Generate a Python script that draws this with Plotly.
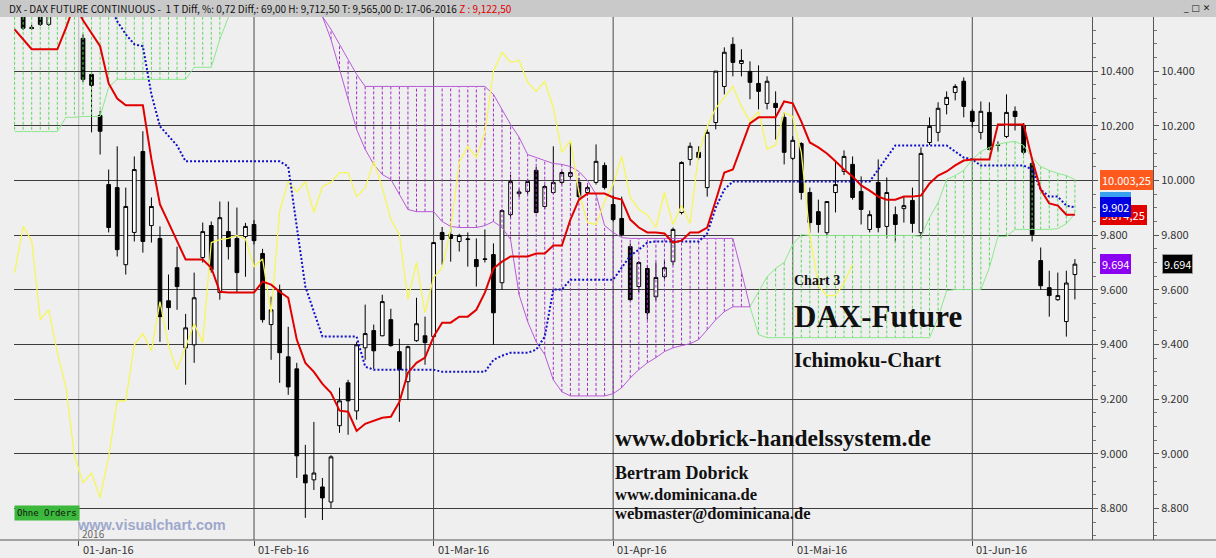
import plotly.graph_objects as go

# ---------------- data ----------------
bar_start = -7  # bar index of first candle (0 = 04-Jan-16)
opens = [10620, 10560, 10625, 10571, 10630, 10680, 10700,
         10520, 10388, 10238, 9985, 9974, 9692, 9810, 10106, 9835, 9788, 9560, 9681, 9388, 9399, 9718, 9835, 9590, 9813, 9788, 9795,
         9839, 9733, 9473, 9597, 9355, 9311, 8923, 8905, 8879, 8824, 9103, 9260, 9157, 9388, 9451, 9432, 9491, 9374, 9264, 9414, 9432,
         9429, 9810, 9802, 9777, 9784, 9711, 9711, 9729, 9626, 9875, 9952, 9960, 10037, 9905, 9956, 9993, 10015, 9993, 9956, 9993, 10055,
         9912, 9861, 9758, 9612, 9678, 9575, 9648, 9703, 9883, 10077, 10103, 9974, 10212, 10344, 10498, 10428, 10399, 10355, 10282, 10282, 10231,
         10081, 10135, 9956, 9886, 9809, 9956, 10033, 10059, 9960, 9821, 9993, 9832, 9875, 9897, 9927, 9809, 10139, 10176, 10278, 10322, 10363,
         10253, 10176, 10249, 10128, 10161, 10253, 10201, 10062, 9707, 9608, 9564, 9484, 9656]
highs = [10660, 10570, 10650, 10640, 10700, 10720, 10740,
         10535, 10400, 10255, 10040, 10125, 9974, 10088, 10180, 9938, 9832, 9656, 9758, 9512, 9663, 9846, 9850, 9923, 9923, 9901, 9845,
         9855, 9750, 9575, 9619, 9465, 9333, 9033, 9117, 8912, 8995, 9242, 9271, 9410, 9546, 9473, 9582, 9531, 9421, 9396, 9571, 9502,
         9775, 9830, 9832, 9805, 9810, 9788, 9821, 9770, 9895, 10020, 9970, 10005, 10050, 9985, 10125, 10035, 10139, 10010, 9985, 10132, 10066,
         9945, 9941, 9770, 9705, 9690, 9700, 9711, 9828, 10070, 10139, 10125, 10187, 10400, 10487, 10524, 10480, 10436, 10421, 10381, 10326, 10249,
         10162, 10140, 9974, 9930, 9923, 10070, 10110, 10088, 10015, 9890, 10077, 10011, 9905, 9941, 9974, 10121, 10231, 10286, 10326, 10352, 10377,
         10260, 10289, 10286, 10143, 10315, 10271, 10210, 10070, 9755, 9670, 9663, 9670, 9712.5]
lows = [10550, 10550, 10565, 10565, 10610, 10640, 10660,
        10360, 10176, 10095, 9810, 9722, 9656, 9777, 9736, 9773, 9410, 9454, 9527, 9253, 9333, 9700, 9663, 9564, 9711, 9590, 9648,
        9766, 9480, 9344, 9260, 9216, 8912, 8766, 8868, 8758, 8802, 9077, 9070, 9125, 9344, 9311, 9430, 9392, 9117, 9198, 9410, 9326,
        9425, 9692, 9703, 9740, 9685, 9612, 9700, 9399, 9600, 9860, 9940, 9950, 9880, 9895, 9950, 9985, 10005, 9935, 9945, 9985, 9967,
        9850, 9795, 9560, 9590, 9491, 9560, 9640, 9690, 9876, 10055, 10077, 9941, 10187, 10315, 10381, 10381, 10297, 10260, 10260, 10150, 10059,
        10075, 9930, 9809, 9809, 9800, 9883, 10020, 9930, 9839, 9810, 9810, 9788, 9773, 9846, 9809, 9791, 10130, 10143, 10242, 10293, 10231,
        10194, 10150, 10110, 10106, 10155, 10183, 10095, 9777, 9600, 9502, 9560, 9429, 9565]
closes = [10557, 10556, 10571, 10615, 10680, 10700, 10690,
          10370, 10348, 10180, 9828, 9747, 9905, 10040, 9777, 9905, 9502, 9535, 9612, 9461, 9571, 9813, 9674, 9864, 9758, 9663, 9832,
          9780, 9491, 9527, 9370, 9245, 8993, 8894, 8930, 8839, 8989, 9194, 9194, 9399, 9440, 9377, 9557, 9396, 9308, 9392, 9476, 9407,
          9773, 9784, 9788, 9799, 9786, 9685, 9713, 9516, 9890, 9996, 9958, 9996, 9883, 9978, 9993, 10029, 10029, 9941, 9974, 10070, 9974,
          9857, 9802, 9564, 9700, 9516, 9645, 9681, 9821, 10066, 10125, 10084, 10176, 10400, 10469, 10432, 10439, 10359, 10326, 10363, 10267, 10103,
          10147, 9956, 9846, 9839, 9923, 9985, 10088, 9938, 9894, 9875, 9828, 9956, 9839, 9908, 9843, 10099, 10198, 10264, 10304, 10344, 10271,
          10216, 10253, 10114, 10130, 10249, 10234, 10103, 9802, 9615, 9579, 9579, 9625, 9694]

tenkan_start = -8
tenkan = [10553, 10516, 10480, 10480, 10480, 10480, 10557, 10645,
          10586, 10538, 10491, 10355, 10300, 10275, 10275, 10275, 10078, 9912, 9846, 9777, 9711, 9711, 9711, 9681, 9593, 9590, 9590, 9590,
          9590, 9630, 9619, 9593, 9571, 9418, 9333, 9300, 9256, 9223, 9158, 9154, 9084, 9110, 9121, 9132, 9136, 9190, 9297, 9333, 9352,
          9429, 9480, 9480, 9502, 9502, 9527, 9590, 9678, 9703, 9722, 9722, 9722, 9733, 9733, 9762, 9762, 9857, 9930, 9952, 9952, 9952,
          9938, 9930, 9857, 9828, 9810, 9810, 9806, 9773, 9780, 9810, 9810, 9828, 9927, 10029, 10040, 10121, 10209, 10231, 10231, 10231, 10289,
          10282, 10216, 10139, 10121, 10099, 10070, 10040, 10015, 9982, 9963, 9941, 9930, 9930, 9941, 9941, 9945, 9989, 10018, 10033, 10055, 10073,
          10077, 10077, 10077, 10205, 10205, 10205, 10205, 10077, 9967, 9916, 9908, 9875, 9875]

kijun_start = 3
kijun = [10650, 10582, 10535, 10498, 10491, 10315, 10198, 10165, 10128,
         10070, 10070, 10070, 10070, 10070, 10070, 10070, 10070, 10070, 10070, 10070, 10070, 10051, 9824, 9612, 9520,
         9429, 9429, 9429, 9429, 9429, 9319, 9308, 9308, 9308, 9308, 9308, 9308, 9308, 9308,
         9300, 9300, 9300, 9300, 9300, 9300, 9344, 9359, 9370, 9370, 9370, 9381, 9429, 9601, 9601,
         9637, 9637, 9637, 9637, 9637, 9637, 9681, 9725, 9747, 9773, 9777, 9777, 9777, 9777, 9777, 9777, 9806, 9901, 9967,
         9996, 9996, 9996, 9996, 9996, 9996, 9996, 9996, 9996, 9996, 9996, 9996, 9996, 9996, 9996, 9996, 9996,
         10040, 10084, 10128, 10128, 10128, 10128, 10128, 10128, 10128, 10106, 10084, 10077,
         10055, 10055, 10055, 10055, 10055, 10055, 10040, 9967, 9941, 9941, 9908, 9902]

chikou_start = -8
chikou = [9663, 9832, 9780, 9491, 9527, 9370, 9245, 8993,
          8894, 8930, 8839, 8989, 9194, 9194, 9399, 9440, 9377, 9557, 9396, 9308, 9392, 9476, 9407, 9773, 9784, 9788, 9799, 9786,
          9685, 9713, 9516, 9890, 9996, 9958, 9996, 9883, 9978, 9993, 10029, 10029, 9941, 9974, 10070, 9974, 9857, 9802, 9564, 9700,
          9516, 9645, 9681, 9821, 10066, 10125, 10084, 10176, 10400, 10469, 10432, 10439, 10359, 10326, 10363, 10267, 10103, 10147, 9956,
          9846, 9839, 9923, 9985, 10088, 9938, 9894, 9875, 9828, 9956, 9839, 9908, 9843, 10099, 10198, 10264, 10304, 10344, 10271, 10216,
          10253, 10114, 10130, 10249, 10234, 10103, 9802, 9615, 9579, 9579, 9625, 9694]

span_start = -8
span_a = [10800, 10800, 10800, 10800, 10800, 10800, 10800, 10800, 10800, 10800, 10800, 10800,
          10800, 10800, 10800, 10800, 10800, 10800, 10800, 10800, 10800, 10800, 10800, 10800,
          10800, 10800, 10800, 10800, 10800, 10800, 10800, 10800, 10800, 10800, 10800, 10800,
          10600, 10516, 10407, 10297, 10187, 10114, 10059, 10022, 10004, 9949, 9894, 9886, 9886, 9886, 9850, 9832,
          9828, 9828, 9828, 9835, 9850, 9828, 9784, 9582, 9484, 9410, 9363, 9271, 9227, 9212, 9212, 9212, 9212, 9212,
          9220, 9242, 9278, 9308, 9333, 9352, 9374, 9388, 9396, 9403, 9418, 9454, 9491, 9520, 9538, 9538, 9538,
          9593, 9648, 9678, 9700, 9766, 9802, 9799, 9799, 9799, 9799, 9799, 9799, 9799, 9799, 9799, 9799, 9799, 9799, 9799, 9795,
          9864, 9919, 10004, 10018, 10037, 10077, 10106, 10121, 10132, 10139, 10143, 10128, 10084, 10051, 10037, 10026, 10018, 10003]
span_b = [10179, 10179, 10179, 10179, 10179, 10179, 10231, 10231, 10234, 10234, 10234, 10341,
          10370, 10370, 10370, 10370, 10370, 10370, 10370, 10370, 10370, 10414, 10414, 10414, 10516, 10597,
          10700, 10700, 10700, 10700, 10700, 10700, 10700, 10700, 10700, 10700,
          10600, 10553, 10498, 10443, 10388, 10344, 10344, 10344, 10344, 10344, 10344, 10344, 10344, 10344, 10344,
          10344, 10344, 10344, 10344, 10344, 10315, 10260, 10205, 10158, 10095, 10084, 10073, 10062, 10059, 10051, 10033,
          10000, 9949, 9835, 9810, 9791, 9788, 9788, 9788, 9788, 9788, 9788, 9788, 9788, 9788, 9788, 9788, 9788, 9788,
          9667, 9538, 9436, 9425, 9425, 9425, 9425, 9425, 9425, 9425, 9425, 9425, 9425, 9425, 9425, 9425, 9425, 9425,
          9425, 9425, 9425, 9425, 9425, 9498, 9597, 9601, 9601, 9601, 9601, 9681, 9795, 9795,
          9821, 9821, 9821, 9821, 9821, 9824, 9842, 9879]

month_idx = [-0.5, 20, 41, 62, 83, 104]
month_labels = ["01-Jan-16", "01-Feb-16", "01-Mar-16", "01-Apr-16", "01-Mai-16", "01-Jun-16"]

# ---------------- helpers ----------------
W, H = 1216, 558
ML, MT, MB = 14, 17, 18
PW = W - ML
PH = H - MT - MB


def px(x):
    return (x - ML) / PW


def py(y):
    return (H - MB - y) / PH


bars_x = list(range(bar_start, bar_start + len(opens)))
ten_x = list(range(tenkan_start, tenkan_start + len(tenkan)))
kij_x = list(range(kijun_start, kijun_start + len(kijun)))
chi_x = list(range(chikou_start, chikou_start + len(chikou)))
n_span = min(len(span_a), len(span_b))
spn_x = list(range(span_start, span_start + n_span))

GREEN_H = "#5cd85c"
GREEN_L = "#8ee88e"
PURP_H = "#a22cc8"
PURP_L = "#b85ad8"

fig = go.Figure()

# cloud hatch: one dashed vertical segment per bar
hx = {"g": [], "p": []}
hy = {"g": [], "p": []}
for k in range(n_span):
    a, b = span_a[k], span_b[k]
    key = "g" if a >= b else "p"
    hx[key] += [spn_x[k], spn_x[k], None]
    hy[key] += [a, b, None]
fig.add_trace(go.Scatter(x=hx["g"], y=hy["g"], mode="lines",
                         line=dict(color=GREEN_H, width=1, dash="3px,2px"),
                         hoverinfo="skip", showlegend=False))
fig.add_trace(go.Scatter(x=hx["p"], y=hy["p"], mode="lines",
                         line=dict(color=PURP_H, width=1, dash="3px,2px"),
                         hoverinfo="skip", showlegend=False))

# cloud borders
bx = {"g": [], "p": []}
by = {"g": [], "p": []}
for k in range(n_span - 1):
    key = "g" if span_a[k] + span_a[k + 1] >= span_b[k] + span_b[k + 1] else "p"
    for s in (span_a, span_b):
        bx[key] += [spn_x[k], spn_x[k + 1], None]
        by[key] += [s[k], s[k + 1], None]
fig.add_trace(go.Scatter(x=bx["g"], y=by["g"], mode="lines",
                         line=dict(color=GREEN_L, width=1),
                         hoverinfo="skip", showlegend=False))
fig.add_trace(go.Scatter(x=bx["p"], y=by["p"], mode="lines",
                         line=dict(color=PURP_L, width=1),
                         hoverinfo="skip", showlegend=False))

# candles
fig.add_trace(go.Candlestick(
    x=bars_x, open=opens, high=highs, low=lows, close=closes,
    increasing=dict(line=dict(color="#000000", width=1), fillcolor="#ffffff"),
    decreasing=dict(line=dict(color="#000000", width=1), fillcolor="#000000"),
    whiskerwidth=0, hoverinfo="skip", showlegend=False))

# chikou (yellow)
fig.add_trace(go.Scatter(x=chi_x, y=chikou, mode="lines",
                         line=dict(color="#f6f65a", width=1.3),
                         hoverinfo="skip", showlegend=False))
# kijun (blue dotted)
fig.add_trace(go.Scatter(x=kij_x, y=kijun, mode="lines",
                         line=dict(color="#1010c8", width=2, dash="2px,2px"),
                         hoverinfo="skip", showlegend=False))
# tenkan (red)
fig.add_trace(go.Scatter(x=ten_x, y=tenkan, mode="lines",
                         line=dict(color="#e00000", width=2),
                         hoverinfo="skip", showlegend=False))
# carrier for second price axis
fig.add_trace(go.Scatter(x=[0], y=[9000], yaxis="y2", mode="markers",
                         marker=dict(opacity=0), hoverinfo="skip", showlegend=False))

YR = [8685, 10598]
axis_font = dict(family="Noto Sans CJK KR", size=11, color="#333333")
ycommon = dict(range=YR, tickmode="linear", tick0=8800, dtick=200, tickformat=",.0f",
               ticks="outside", ticklen=5, tickcolor="#555555", showline=True,
               linecolor="#555555", linewidth=1, zeroline=False, tickfont=axis_font,
               minor=dict(dtick=50, ticks="outside", ticklen=3, tickcolor="#777777", showgrid=False),
               fixedrange=True)

shapes = []
# title bar
shapes.append(dict(type="rect", xref="paper", yref="paper", x0=px(0), x1=px(W),
                   y0=py(MT), y1=py(0), fillcolor="#c9c9c9", line=dict(width=0), layer="above"))
# bottom line across the whole width
shapes.append(dict(type="line", xref="paper", yref="paper", x0=px(0), x1=px(W), y0=0, y1=0,
                   line=dict(color="#555555", width=1)))
# month separator lines
for k, mi in enumerate(month_idx):
    shapes.append(dict(type="line", xref="x", yref="paper", x0=mi, x1=mi, y0=0, y1=1,
                       line=dict(color="#b8b8b8" if k == 0 else "#4a4a4a", width=1), layer="below"))

ann = []
title_txt = ("DX - DAX FUTURE CONTINUOUS -  1 T Diff, %: 0,72 Diff,: 69,00 H: 9,712,50 "
             "T: 9,565,00 D: 17-06-2016 <span style='color:#e00000'>Z : 9,122,50</span>")
ann.append(dict(text=title_txt, xref="paper", yref="paper", x=px(7), y=py(8.5),
                xanchor="left", yanchor="middle", showarrow=False,
                font=dict(family="Noto Sans CJK KR", size=10, color="#111111")))
ann.append(dict(text="_ \u25a1 \u2715", xref="paper", yref="paper", x=px(1212), y=py(8),
                xanchor="right", yanchor="middle", showarrow=False,
                font=dict(family="DejaVu Sans", size=9, color="#222222")))
for mi, lab in zip(month_idx, month_labels):
    ann.append(dict(text=lab, xref="x", yref="paper", x=mi, y=py(549), xshift=2,
                    xanchor="left", yanchor="middle", showarrow=False, font=axis_font))

# last-value boxes on the price scale
boxes = [
    ("9.874,25", 9874.25, "#e00000", 1100),
    ("9.904", 9921, "#3aa0f0", 1100),
    ("9.902", 9902, "#0000e0", 1100),
    ("10.003,25", 10003.25, "#ff5a1e", 1100),
    ("9.694", 9694, "#8a00f0", 1100),
    ("9.694", 9694, "#000000", 1162),
]
for txt, val, col, xp in boxes:
    ann.append(dict(text=txt, xref="paper", yref="y", x=px(xp), y=val, xanchor="left",
                    yanchor="middle", showarrow=False, bgcolor=col, borderpad=1,
                    bordercolor="#9a9a9a" if col == "#000000" else col, borderwidth=1,
                    font=dict(family="Noto Sans CJK KR", size=11, color="#ffffff")))

serif = "Liberation Serif"
texts = [
    ("Chart 3", 792, 280, 14),
    ("DAX-Future", 792, 316, 31),
    ("Ichimoku-Chart", 792, 360, 21),
    ("www.dobrick-handelssystem.de", 613, 438, 23.5),
    ("Bertram Dobrick", 613, 473, 18),
    ("www.dominicana.de", 613, 494, 16.5),
    ("webmaster@dominicana.de", 613, 513, 16.5),
]
for txt, x, y, s in texts:
    ann.append(dict(text="<b>%s</b>" % txt, xref="paper", yref="paper", x=px(x), y=py(y),
                    xanchor="left", yanchor="middle", showarrow=False,
                    font=dict(family=serif, size=s, color="#111111")))

ann.append(dict(text="Ohne Orders", xref="paper", yref="paper", x=px(14), y=py(513),
                xanchor="left", yanchor="middle", showarrow=False, bgcolor="#3cb83c",
                borderpad=2, font=dict(family="DejaVu Sans Mono", size=9, color="#111111")))
ann.append(dict(text="2016", xref="paper", yref="paper", x=px(80), y=py(533),
                xanchor="left", yanchor="middle", showarrow=False,
                font=dict(family="Noto Sans CJK KR", size=10, color="#666666")))
ann.append(dict(text="<b>www.visualchart.com</b>", xref="paper", yref="paper", x=px(75), y=py(525),
                xanchor="left", yanchor="middle", showarrow=False,
                font=dict(family="Liberation Sans", size=14.5, color="#9ea8cc")))

fig.update_layout(
    width=W, height=H,
    margin=dict(l=ML, r=0, t=MT, b=MB, pad=0),
    paper_bgcolor="#efefef", plot_bgcolor="#efefef",
    separators=",.",
    showlegend=False,
    boxgap=0.38,
    xaxis=dict(domain=[0, px(1092)], range=[-8.07, 118.0], showgrid=False, zeroline=False,
               showline=False, tickmode="array", tickvals=month_idx, ticks="outside",
               ticklen=5, tickcolor="#444444", showticklabels=False,
               rangeslider=dict(visible=False), fixedrange=True),
    yaxis=dict(side="right", showgrid=True, gridcolor="#3c3c3c", gridwidth=1, **ycommon),
    yaxis2=dict(overlaying="y", anchor="free", position=px(1153), side="right",
                showgrid=False, **ycommon),
    shapes=shapes,
    annotations=ann,
)

fig.write_html("out.html", config={"displayModeBar": False},
               post_script="document.body.style.margin='0';document.body.style.overflow='hidden';")
